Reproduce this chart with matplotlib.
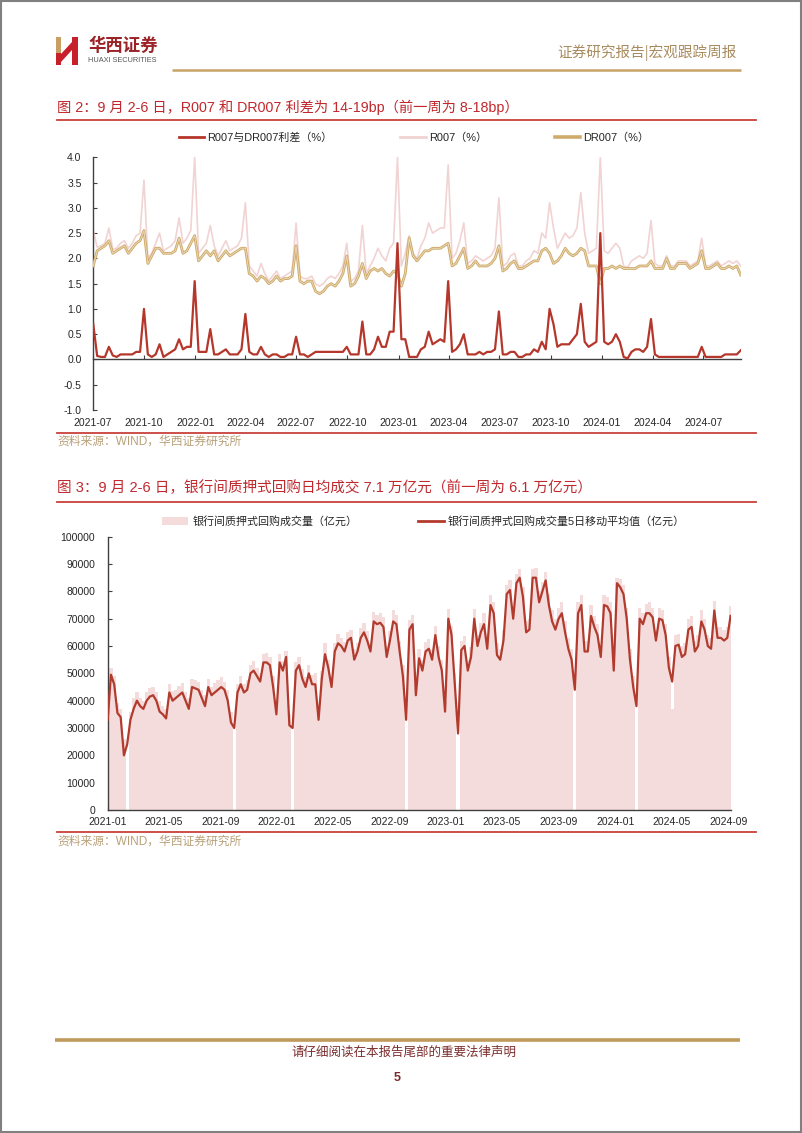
import matplotlib
matplotlib.use("Agg")
import matplotlib.pyplot as plt
import matplotlib.dates as mdates
from matplotlib.lines import Line2D
from matplotlib.patches import Patch, Polygon, Rectangle
import numpy as np
import pandas as pd

plt.rcParams['font.family'] = ['Liberation Sans', 'Noto Sans CJK SC', 'DejaVu Sans']

# ---------------- data: chart 1 (weekly, Fridays from 2021-07-02) ----------------
r007 = [
    2.55, 2.22, 2.25, 2.30, 2.60, 2.18, 2.20, 2.30, 2.35, 2.20, 2.30, 2.45, 2.50,
    3.55, 2.00, 2.10, 2.30, 2.50, 2.15, 2.20, 2.25, 2.35, 2.80, 2.30, 2.40, 2.55, 4.00,
    2.10, 2.20, 2.30, 2.65, 2.25, 2.05, 2.20, 2.35, 2.15, 2.20, 2.25, 2.40,
    3.10, 1.85, 1.75, 1.65, 1.90, 1.70, 1.55, 1.65, 1.75, 1.60, 1.65, 1.70, 1.75,
    2.70, 1.65, 1.60, 1.60, 1.65, 1.50, 1.45, 1.50, 1.60, 1.65, 1.60, 1.70, 1.85, 2.30,
    1.55, 1.60, 1.75, 2.65, 1.70, 1.85, 2.00, 2.20, 2.05, 1.95, 2.20, 2.30, 4.00,
    1.85, 2.10, 2.45, 2.10, 2.00, 2.25, 2.40, 2.70, 2.50, 2.55, 2.60, 2.60, 3.85,
    2.00, 2.10, 2.35, 2.70, 1.90, 1.95, 2.05, 2.00, 1.95, 2.00, 2.05, 2.20, 3.20,
    1.85, 1.90, 2.05, 2.10, 1.85, 1.85, 1.95, 2.00, 2.15, 2.10, 2.50, 2.40, 3.10,
    2.60, 2.20, 2.35, 2.50, 2.40, 2.45, 2.60, 3.30, 2.50, 2.10, 2.15, 2.20, 4.00,
    2.15, 2.10, 2.20, 2.30, 2.20, 1.85, 1.82, 1.95, 2.00, 2.05, 2.00, 2.10, 2.75,
    1.90, 1.85, 1.85, 2.05, 1.85, 1.85, 1.95, 1.95, 1.95, 1.85, 1.90, 1.95, 2.40,
    1.85, 1.85, 1.90, 1.95, 1.85, 1.90, 1.95, 1.90, 1.95, 1.85,
]
dr007 = [
    1.85, 2.15, 2.20, 2.25, 2.35, 2.10, 2.15, 2.20, 2.25, 2.10, 2.20, 2.30, 2.35,
    2.55, 1.90, 2.05, 2.20, 2.20, 2.10, 2.10, 2.10, 2.15, 2.40, 2.10, 2.15, 2.30, 2.45,
    1.95, 2.05, 2.15, 2.05, 2.15, 1.95, 2.05, 2.15, 2.05, 2.10, 2.15, 2.20,
    2.20, 1.70, 1.65, 1.55, 1.65, 1.60, 1.50, 1.55, 1.65, 1.55, 1.60, 1.60, 1.65,
    2.25, 1.55, 1.50, 1.55, 1.55, 1.35, 1.30, 1.35, 1.45, 1.50, 1.45, 1.55, 1.70, 2.05,
    1.45, 1.50, 1.65, 1.90, 1.60, 1.75, 1.80, 1.75, 1.80, 1.70, 1.65, 1.75, 1.70,
    1.45, 1.70, 2.40, 2.05, 1.95, 2.05, 2.15, 2.15, 2.20, 2.20, 2.20, 2.25, 2.30,
    1.85, 1.90, 2.05, 2.20, 1.80, 1.85, 1.95, 1.85, 1.85, 1.85, 1.90, 2.00, 2.25,
    1.75, 1.80, 1.90, 1.95, 1.80, 1.80, 1.85, 1.90, 1.95, 1.95, 2.15, 2.20, 2.10,
    1.90, 1.95, 2.05, 2.20, 2.10, 2.05, 2.10, 2.20, 2.15, 1.85, 1.85, 1.85, 1.50,
    1.80, 1.80, 1.85, 1.80, 1.85, 1.80, 1.80, 1.80, 1.80, 1.85, 1.85, 1.85, 1.95,
    1.80, 1.80, 1.80, 2.00, 1.80, 1.80, 1.90, 1.90, 1.90, 1.80, 1.85, 1.90, 2.15,
    1.80, 1.80, 1.85, 1.90, 1.80, 1.80, 1.85, 1.80, 1.85, 1.67,
]

# ---------------- data: chart 2 (weekly, Fridays from 2021-01-01) ----------------
repo_ma5 = [
    33000,
    49500, 46000, 35500, 34000, 20000, 24000, 33000, 37000, 40000, 38000,
    37000, 40000, 41500, 42000, 40000, 36000, 35000, 33500, 43000, 40000,
    41000, 42000, 43000, 40000, 37000, 45000, 44500, 44000, 41000, 38000,
    45000, 42000, 43000, 44000, 45000, 44000, 40000, 32000, 30000, 43000,
    46000, 43000, 44000, 50000, 51000, 49000, 47000, 54000, 54000, 53000,
    45000, 35000, 54000, 51000, 56000, 31000, 30000, 51000, 53000, 48000,
    45000, 50000, 46000, 46000, 33000, 48000, 57000, 52000, 45000, 58000,
    61000, 60000, 58000, 62000, 63000, 55000, 58000, 63000, 65000, 62000,
    58000, 69000, 68000, 68500, 67000, 56000, 62000, 69000, 68000, 58000,
    49000, 33000, 66000, 68000, 42000, 55500, 51000, 58000, 59000, 55000,
    64000, 56000, 51000, 36000, 70000, 64000, 46000, 28000, 58500, 60000,
    51000, 56000, 70000, 60000, 65000, 68000, 59000, 75000, 72000, 56700,
    55000, 62000, 79000, 80500, 70000, 83000, 85000, 78000, 65000, 66000,
    85000, 85000, 76000, 80000, 84000, 75000, 69000, 66000, 70000, 72000,
    65000, 59000, 55000, 44000, 72000, 75000, 58000, 58000, 71000, 67000,
    64000, 56000, 75000, 74500, 72000, 51000, 83000, 81500, 79000, 70000,
    55000, 45000, 38000, 70000, 68000, 72000, 72000, 70500, 62000, 70000,
    69500, 64000, 52000, 47000, 60000, 60500, 56000, 57000, 66000, 67000,
    58000, 60000, 69000, 66000, 60000, 59000, 73000, 63000, 63000, 62000,
    63000, 71000,
]
repo_volume = [
    40000,
    52000, 49000, 39000, 37000, 26000, 0, 36000, 41000, 43000, 41000,
    40000, 43000, 44500, 45000, 43000, 40000, 38000, 37000, 46000, 43500,
    44000, 45500, 46500, 43000, 41000, 48000, 47500, 47000, 44000, 42000,
    48000, 45000, 46500, 47500, 48500, 47000, 44000, 36000, 0, 46000,
    49000, 46000, 47500, 53000, 54500, 52000, 50000, 57000, 57500, 56000,
    49000, 40000, 57000, 54500, 58000, 35000, 0, 54000, 56000, 51500,
    48500, 53000, 49500, 50000, 37000, 51000, 61000, 55000, 49000, 61000,
    64500, 63000, 61500, 65000, 66000, 59000, 61000, 66500, 68500, 65500,
    61000, 72500, 71500, 72000, 70500, 60000, 65500, 73000, 71500, 62000,
    53000, 0, 69500, 71500, 46000, 59000, 55000, 61500, 62500, 59000,
    67500, 60000, 55000, 40000, 73500, 67500, 50000, 0, 62000, 63500,
    55000, 59500, 73500, 64000, 68500, 72000, 63000, 78500, 76000, 61000,
    59000, 66000, 82500, 84000, 74000, 86500, 88000, 81500, 69000, 70000,
    88000, 88500, 80000, 83500, 87000, 79000, 73000, 70000, 74000, 76000,
    69000, 63000, 59000, 0, 76000, 78500, 62000, 62000, 75000, 71000,
    68000, 60000, 78500, 78000, 76000, 55000, 85000, 84500, 82500, 74000,
    59000, 49000, 0, 74000, 72000, 75500, 76000, 74000, 66000, 74000,
    73000, 68000, 56000, 37000, 64000, 64500, 60000, 61000, 70000, 71000,
    62000, 64000, 73000, 70000, 64000, 63000, 76500, 67000, 67000, 66000,
    67000, 74500,
]

n1 = min(len(r007), len(dr007))
dates1 = pd.date_range('2021-07-02', periods=n1, freq='W-FRI')
r007_a = np.array(r007[:n1])
dr007_a = np.array(dr007[:n1])
spread = r007_a - dr007_a

n2 = min(len(repo_ma5), len(repo_volume))
dates2 = pd.date_range('2021-01-01', periods=n2, freq='W-FRI')

# ---------------- colours ----------------
RED = '#c0282d'
LINE_RED = '#c9403a'
GOLD = '#c8a368'
SRC_GOLD = '#b8a078'
SPREAD_C = '#b5372c'
R007_C = '#f2d3d3'
DR007_C = '#cfab6c'
BAR_C = '#f3dcdb'
MA_C = '#b23b2e'
TXT = '#262626'
SPINE = '#404040'

W, H = 802, 1133
fig = plt.figure(figsize=(W / 100, H / 100), dpi=100)

# background / decoration axes in pixel coords
bg = fig.add_axes([0, 0, 1, 1])
bg.set_xlim(0, W)
bg.set_ylim(H, 0)
bg.axis('off')

bg.add_patch(Rectangle((0.5, 0.5), W - 1.5, H - 1.5, fill=False, ec='#808080', lw=1.5))

# logo
bg.add_patch(Polygon([(56, 37), (61, 37), (61, 53), (56, 53)], closed=True, fc='#c9a063', ec='none'))
bg.add_patch(Polygon([(56, 53), (61, 53), (61, 65), (56, 65)], closed=True, fc='#c8202a', ec='none'))
bg.add_patch(Polygon([(72, 37), (78, 37), (78, 65), (72, 65)], closed=True, fc='#c8202a', ec='none'))
bg.add_patch(Polygon([(61, 54), (72, 42), (72, 50), (61, 62)], closed=True, fc='#c8202a', ec='none'))
bg.text(88, 45.5, '华西证券', fontsize=12.5, color='#9b2226', fontweight='bold',
        family=['Noto Sans CJK SC'], va='center', ha='left')
bg.text(88, 60.5, 'HUAXI SECURITIES', fontsize=5.3, color='#555555', va='center', ha='left')

# header
bg.text(737, 53, '证券研究报告|宏观跟踪周报', fontsize=10.5, color='#a88b5e',
        family=['Noto Sans CJK SC'], va='center', ha='right')
bg.plot([172, 741], [69.5, 69.5], color=GOLD, lw=1.8, solid_capstyle='butt')

# chart 1 title / separators
bg.text(57, 107, '图 2：9 月 2-6 日，R007 和 DR007 利差为 14-19bp（前一周为 8-18bp）',
        fontsize=10.3, color=RED, va='center', ha='left')
bg.plot([57, 756], [120, 120], color=LINE_RED, lw=1.3)
bg.plot([57, 756], [433.3, 433.3], color=LINE_RED, lw=1.3)
bg.text(57, 442, '资料来源：WIND，华西证券研究所', fontsize=8.5, color=SRC_GOLD, va='center', ha='left')

# chart 2 title / separators
bg.text(57, 488, '图 3：9 月 2-6 日，银行间质押式回购日均成交 7.1 万亿元（前一周为 6.1 万亿元）',
        fontsize=10.5, color=RED, va='center', ha='left')
bg.plot([57, 756], [502, 502], color=LINE_RED, lw=1.3)
bg.plot([57, 756], [832.3, 832.3], color=LINE_RED, lw=1.3)
bg.text(57, 842, '资料来源：WIND，华西证券研究所', fontsize=8.5, color=SRC_GOLD, va='center', ha='left')

# footer
bg.plot([55, 740], [1040, 1040], color='#c09a5b', lw=2.6, solid_capstyle='butt')
bg.text(404, 1052.5, '请仔细阅读在本报告尾部的重要法律声明', fontsize=9, color='#7b2c2c',
        family=['Noto Sans CJK SC'], va='center', ha='center')
bg.text(397, 1078, '5', fontsize=9, color='#7b2c2c', fontweight='bold', va='center', ha='center')


def px_axes(left, top, right, bottom):
    return [left / W, 1 - bottom / H, (right - left) / W, (bottom - top) / H]


# ---------------- chart 1 ----------------
ax1 = fig.add_axes(px_axes(92.7, 157.3, 740.7, 410.0))
ax1.plot(dates1, r007_a, color=R007_C, lw=1.2, zorder=2)
ax1.plot(dates1, dr007_a, color=DR007_C, lw=2.0, zorder=3)
ax1.plot(dates1, dr007_a, color='#ecdcba', lw=0.6, zorder=3.1)
ax1.plot(dates1, spread, color=SPREAD_C, lw=1.6, zorder=4)
ax1.set_ylim(-1.0, 4.0)
ax1.set_xlim(pd.Timestamp('2021-07-01'), pd.Timestamp('2024-09-06'))
ax1.set_yticks(np.arange(-1.0, 4.01, 0.5))
ax1.yaxis.set_major_formatter(matplotlib.ticker.FormatStrFormatter('%.1f'))
ax1.xaxis.set_major_locator(mdates.MonthLocator(bymonth=[1, 4, 7, 10]))
ax1.xaxis.set_major_formatter(mdates.DateFormatter('%Y-%m'))
for s in ['top', 'right']:
    ax1.spines[s].set_visible(False)
ax1.spines['bottom'].set_position(('data', 0))
ax1.spines['bottom'].set_color(SPINE)
ax1.spines['left'].set_color(SPINE)
ax1.spines['bottom'].set_linewidth(1.0)
ax1.spines['left'].set_linewidth(1.0)
ax1.tick_params(axis='y', direction='in', length=3, width=0.8, color=SPINE,
                labelsize=7.5, labelcolor=TXT, pad=8)
ax1.tick_params(axis='x', direction='in', length=3, width=0.8, color=SPINE,
                labelsize=7.5, labelcolor=TXT, pad=42.5)
ax1.patch.set_alpha(0)

h1 = [Line2D([], [], color=SPREAD_C, lw=2.0),
      Line2D([], [], color=R007_C, lw=2.0),
      Line2D([], [], color=DR007_C, lw=2.6)]
l1 = ['R007与DR007利差（%）', 'R007（%）', 'DR007（%）']
fig.legend(h1, l1, loc='center', bbox_to_anchor=(414 / W, 1 - 138 / H), ncol=3,
           frameon=False, fontsize=7.9, handlelength=2.3, handletextpad=0.3,
           columnspacing=6.2, labelcolor=TXT)

# ---------------- chart 2 ----------------
ax2 = fig.add_axes(px_axes(107.7, 536.7, 731.0, 810.0))
ax2.bar(dates2, repo_volume[:n2], width=7, color=BAR_C, linewidth=0, zorder=2)
ax2.plot(dates2, repo_ma5[:n2], color=MA_C, lw=1.6, zorder=3)
ax2.set_ylim(0, 100000)
ax2.set_xlim(pd.Timestamp('2021-01-01'), pd.Timestamp('2024-09-07'))
ax2.set_yticks(np.arange(0, 100001, 10000))
ax2.xaxis.set_major_locator(mdates.MonthLocator(bymonth=[1, 5, 9]))
ax2.xaxis.set_major_formatter(mdates.DateFormatter('%Y-%m'))
for s in ['top', 'right']:
    ax2.spines[s].set_visible(False)
for s in ['bottom', 'left']:
    ax2.spines[s].set_color(SPINE)
    ax2.spines[s].set_linewidth(1.0)
ax2.tick_params(axis='y', direction='in', length=3, width=0.8, color=SPINE,
                labelsize=7.5, labelcolor=TXT, pad=9)
ax2.tick_params(axis='x', direction='in', length=3, width=0.8, color=SPINE,
                labelsize=7.5, labelcolor=TXT, pad=5)
ax2.patch.set_alpha(0)

h2 = [Patch(facecolor=BAR_C, edgecolor='none'), Line2D([], [], color=MA_C, lw=2.0)]
l2 = ['银行间质押式回购成交量（亿元）', '银行间质押式回购成交量5日移动平均值（亿元）']
fig.legend(h2, l2, loc='center', bbox_to_anchor=(423.5 / W, 1 - 521.7 / H), ncol=2,
           frameon=False, fontsize=7.9, handlelength=2.4, handletextpad=0.35,
           columnspacing=5.5, labelcolor=TXT)

fig.savefig('out.png', dpi=100)
